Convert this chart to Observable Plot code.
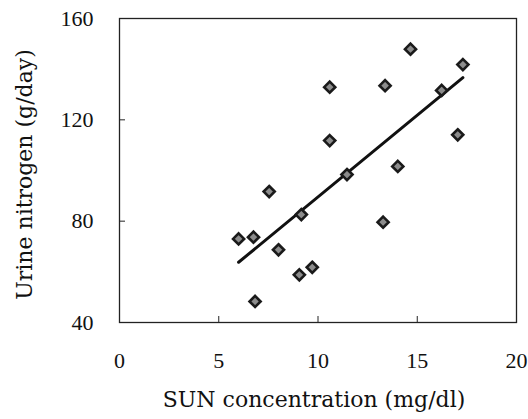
<!DOCTYPE html>
<html>
<head>
<meta charset="utf-8">
<script src="https://cdn.jsdelivr.net/npm/d3@7"></script>
<script src="https://cdn.jsdelivr.net/npm/@observablehq/plot@0.6"></script>
<style>
  html, body { margin: 0; padding: 0; background: #fff; }
</style>
</head>
<body>
<div id="chart"></div>
<script>
// SUN concentration (mg/dl)
const sun = [6.00, 6.75, 6.83, 7.54, 8.01, 9.06, 9.16, 9.71, 10.59, 10.59, 11.46, 13.28, 13.38, 14.02, 14.66, 16.23, 17.04, 17.30];
// Urine nitrogen (g/day)
const urineN = [73.0, 73.7, 48.3, 91.7, 68.7, 58.8, 82.6, 61.8, 132.9, 111.8, 98.4, 79.6, 133.5, 101.6, 147.9, 131.6, 114.1, 141.8];

const xTicks = [0, 5, 10, 15, 20];
const yTicks = [40, 80, 120, 160];
const xLabel = "SUN concentration (mg/dl)";
const yLabel = "Urine nitrogen (g/day)";

const data = sun.map((s, i) => ({sun: s, n: urineN[i]}));

const plot = Plot.plot({
  width: 528,
  height: 419,
  marginLeft: 119,
  marginRight: 12,
  marginTop: 18,
  marginBottom: 97,
  style: {fontFamily: "Liberation Serif", fontSize: "22px", color: "#111", background: "#fff"},
  x: {domain: [0, 20]},
  y: {domain: [40, 160]},
  marks: [
    Plot.frame({stroke: "#222", strokeWidth: 1.3}),
    // inward ticks
    Plot.axisX({ticks: xTicks, tickSize: -6, tickFormat: () => "", label: null, stroke: "#222"}),
    Plot.axisY({ticks: yTicks, tickSize: -6, tickFormat: () => "", label: null, stroke: "#222"}),
    // tick labels
    Plot.axisX({ticks: xTicks, tickSize: 0, tickPadding: 30, label: null, fill: "#111"}),
    Plot.axisY({ticks: yTicks, tickSize: 0, tickPadding: 26, label: null, fill: "#111"}),
    // axis titles
    Plot.text([xLabel], {frameAnchor: "bottom", dx: -4, dy: 77, lineAnchor: "middle", textAnchor: "middle", fontFamily: "DejaVu Serif", fontSize: 22, fill: "#111"}),
    Plot.text([yLabel], {frameAnchor: "left", dx: -95, dy: 4, rotate: -90, lineAnchor: "middle", textAnchor: "middle", fontFamily: "DejaVu Serif", fontSize: 22, fill: "#111"}),
    Plot.linearRegressionY(data, {x: "sun", y: "n", stroke: "#111", strokeWidth: 3, ci: 0}),
    Plot.dot(data, {x: "sun", y: "n", symbol: "diamond2", r: 5, fill: "#8c8c8c", stroke: "#1a1a1a", strokeWidth: 2.6})
  ]
});
document.getElementById("chart").appendChild(plot);
</script>
</body>
</html>
